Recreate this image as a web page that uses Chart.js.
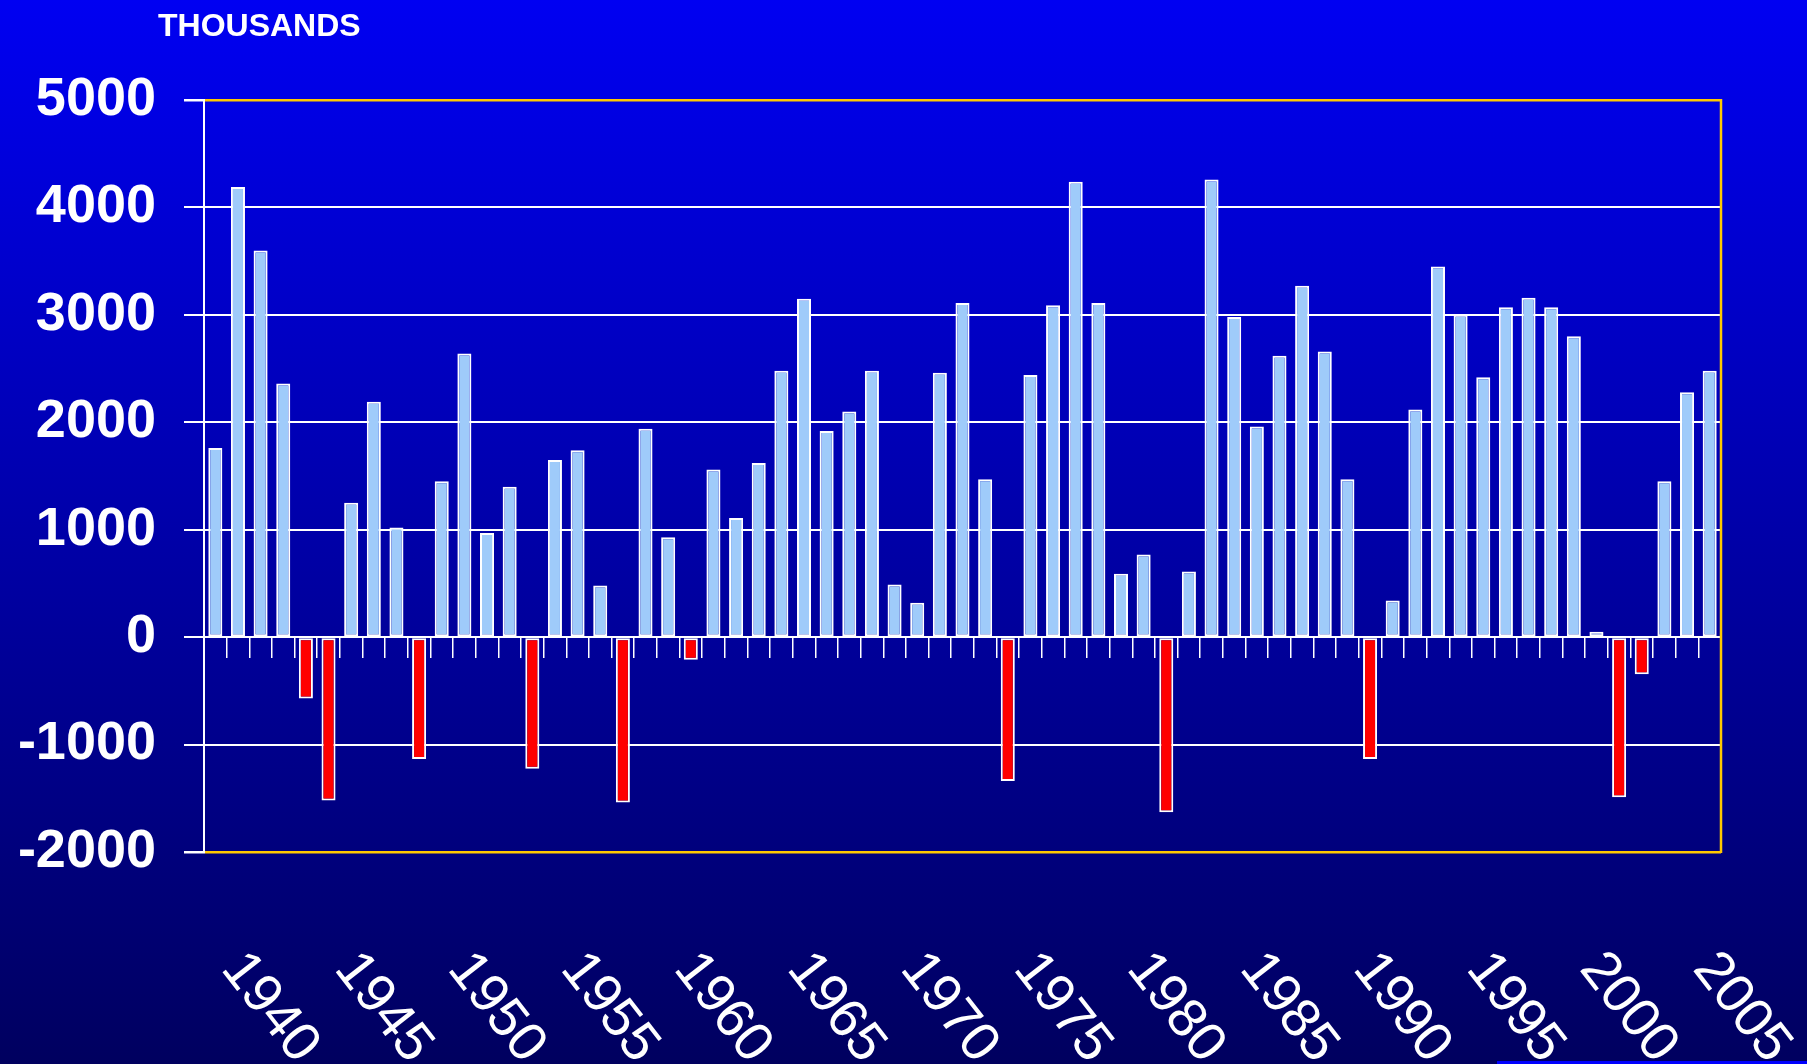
<!DOCTYPE html>
<html>
<head>
<meta charset="utf-8">
<title>Thousands by year</title>
<script src="https://cdn.jsdelivr.net/npm/chart.js@4.4.1/dist/chart.umd.min.js"></script>
<style>
  html, body { margin: 0; padding: 0; }
  #wrap {
    position: relative;
    width: 1807px;
    height: 1064px;
    overflow: hidden;
    background: linear-gradient(to bottom, #0000f2 0%, #00005f 100%);
  }
  #units {
    position: absolute;
    left: 158px;
    top: 9px;
    font: bold 32px/32px "Liberation Sans", Arial, sans-serif;
    color: #ffffff;
  }
  #strip {
    position: absolute;
    left: 1497px;
    top: 1061px;
    width: 310px;
    height: 3px;
    background: #0000ff;
  }
  canvas { position: absolute; left: 0; top: 0; }
</style>
</head>
<body>
<div id="wrap">
  <canvas id="chart" width="1807" height="1064"></canvas>
  <div id="units">THOUSANDS</div>
  <div id="strip"></div>
</div>
<script>
// one bar per year
const years = [
  1939, 1940, 1941, 1942, 1943, 1944, 1945, 1946, 1947, 1948,
  1949, 1950, 1951, 1952, 1953, 1954, 1955, 1956, 1957, 1958,
  1959, 1960, 1961, 1962, 1963, 1964, 1965, 1966, 1967, 1968,
  1969, 1970, 1971, 1972, 1973, 1974, 1975, 1976, 1977, 1978,
  1979, 1980, 1981, 1982, 1983, 1984, 1985, 1986, 1987, 1988,
  1989, 1990, 1991, 1992, 1993, 1994, 1995, 1996, 1997, 1998,
  1999, 2000, 2001, 2002, 2003, 2004, 2005
];

// yearly change, thousands
const changes = [
  1760, 4190, 3600, 2360, -570, -1520, 1250, 2190, 1020, -1135,
  1450, 2640, 970, 1400, -1225, 1650, 1740, 480, -1540, 1940,
  930, -210, 1560, 1110, 1620, 2480, 3150, 1920, 2100, 2480,
  490, 320, 2460, 3110, 1470, -1340, 2440, 3090, 4240, 3110,
  590, 770, -1630, 610, 4260, 2980, 1960, 2620, 3270, 2660,
  1470, -1135, 340, 2120, 3450, 3000, 2420, 3070, 3160, 3070,
  2800, 50, -1490, -345, 1450, 2280, 2480
];

const tickYears = [1940, 1945, 1950, 1955, 1960, 1965, 1970, 1975, 1980, 1985, 1990, 1995, 2000, 2005];

const yMin = -2000;
const yMax = 5000;
const yStep = 1000;

const posColor = '#9fcbfa';
const negColor = '#ff0000';
const frameColor = '#ffc800';

// yellow right edge of the plot frame
const frameEdge = {
  id: 'frameEdge',
  afterDraw(chart) {
    const { ctx, chartArea } = chart;
    ctx.save();
    ctx.strokeStyle = frameColor;
    ctx.lineWidth = 2.5;
    ctx.beginPath();
    ctx.moveTo(chartArea.right, chartArea.top - 1);
    ctx.lineTo(chartArea.right, chartArea.bottom + 1);
    ctx.stroke();
    ctx.restore();
  }
};

// slanted year labels, reading downwards like the original slide
const yearLabels = {
  id: 'yearLabels',
  afterDraw(chart) {
    const { ctx, chartArea } = chart;
    const xs = chart.scales.x;
    ctx.save();
    ctx.font = '55px "Liberation Sans", Arial, sans-serif';
    ctx.fillStyle = '#ffffff';
    ctx.textAlign = 'left';
    ctx.textBaseline = 'alphabetic';
    tickYears.forEach(yr => {
      const idx = years.indexOf(yr);
      if (idx < 0) return;
      const px = xs.getPixelForValue(idx);
      ctx.save();
      ctx.translate(px - 18, chartArea.bottom + 117);
      ctx.rotate(52 * Math.PI / 180);
      ctx.fillText(String(yr), 0, 0);
      ctx.restore();
    });
    ctx.restore();
  }
};

new Chart(document.getElementById('chart'), {
  type: 'bar',
  data: {
    labels: years.map(String),
    datasets: [{
      data: changes,
      backgroundColor: ctx => changes[ctx.dataIndex] < 0 ? negColor : posColor,
      borderColor: '#ffffff',
      borderWidth: 2,
      borderSkipped: false,
      barPercentage: 0.62,
      categoryPercentage: 1
    }]
  },
  options: {
    responsive: false,
    animation: false,
    layout: { padding: { left: 0, top: 100, right: 86, bottom: 212 } },
    plugins: {
      legend: { display: false },
      tooltip: { enabled: false }
    },
    scales: {
      x: {
        type: 'category',
        position: { y: 0 },
        offset: true,
        ticks: { display: false },
        grid: {
          offset: true,
          drawOnChartArea: false,
          drawTicks: true,
          tickLength: 20,
          color: '#ffffff',
          lineWidth: 1.5
        },
        border: { color: '#ffffff', width: 2 }
      },
      y: {
        min: yMin,
        max: yMax,
        afterFit(scale) { scale.width = 204; },
        ticks: {
          stepSize: yStep,
          color: '#ffffff',
          padding: 28,
          font: { family: '"Liberation Sans", Arial, sans-serif', size: 54, weight: 'bold' },
          callback: v => String(v)
        },
        grid: {
          color: ctx => (ctx.tick && (ctx.tick.value === yMax || ctx.tick.value === yMin)) ? frameColor : '#ffffff',
          tickColor: '#ffffff',
          lineWidth: ctx => (ctx.tick && (ctx.tick.value === yMax || ctx.tick.value === yMin)) ? 2.5 : 2,
          tickLength: 20
        },
        border: { color: '#ffffff', width: 2 }
      }
    }
  },
  plugins: [frameEdge, yearLabels]
});
</script>
</body>
</html>
